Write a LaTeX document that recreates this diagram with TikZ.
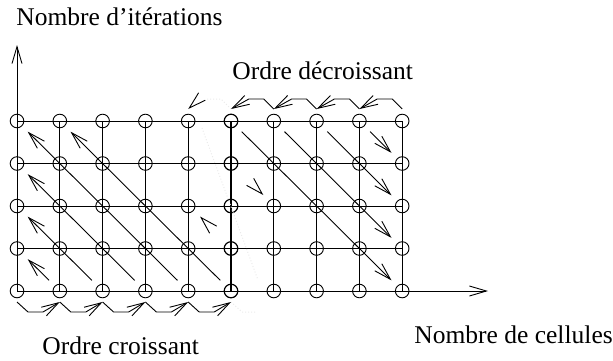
\documentclass[tikz,border=0pt]{standalone}
\usepackage{fontspec}
\setmainfont{Liberation Serif}
\usetikzlibrary{arrows.meta,calc}
\begin{document}
\begin{tikzpicture}[x=1pt,y=-1pt,line width=0.9pt,line join=miter,
  arr/.style={-{Straight Barb[length=17pt,width=10pt,line join=miter]}},
  cell/.style={circle,draw,minimum size=13.6pt,inner sep=0pt,line width=0.9pt},
  boldcell/.style={cell,line width=1.2pt},
  lbl/.style={inner sep=0pt,anchor=base west,font=\fontsize{25.5}{30}\selectfont},
  faint/.style={draw=black!8,dotted,line width=1pt}]
\useasboundingbox (0,0) rectangle (613,360);

% grid of cells
\foreach \i in {0,...,9}{
  \foreach \j in {0,...,4}{
    \pgfmathsetmacro\px{17+42.8*\i}
    \pgfmathsetmacro\py{291-42.5*\j}
    \ifnum\i=5
      \node[boldcell] (c\i\j) at (\px,\py) {};
    \else
      \node[cell] (c\i\j) at (\px,\py) {};
    \fi
  }}

% axes
\coordinate (xend) at (488,291);
\coordinate (yend) at (17,45);
\draw[arr] (c00.center) -- (xend);
\draw[arr] (c00.center) -- (yend);

% grid lines
\foreach \j in {1,...,4} \draw (c0\j.center) -- (c9\j.center);
\foreach \i in {1,2,3,4,6,7,8,9} \draw (c\i0.center) -- (c\i4.center);
\draw[line width=1.2pt] (c50.center) -- (c54.center);

% faint guides
\coordinate (f1) at (202,128);
\coordinate (f2) at (258,280);
\draw[faint] (f1) -- (f2);

% diagonal arrows
\foreach \ua/\va/\ub/\vb [count=\n] in {3.75/.25/.25/3.75, 4.75/.25/1.25/3.75,
    2.75/.25/.25/2.75, 1.75/.25/.25/1.75, .75/.25/.25/.75,
    5.25/3.75/8.75/.25, 6.25/3.75/8.75/1.25, 7.25/3.75/8.75/2.25, 8.25/3.75/8.75/3.25}{
  \coordinate (ds\n) at ({17+42.8*\ua},{291-42.5*\va});
  \coordinate (de\n) at ({17+42.8*\ub},{291-42.5*\vb});
  \draw[arr] (ds\n) -- (de\n);
}

% isolated heads
\coordinate (hA) at (200,216.5);
\coordinate (hB) at (263.3,195);
\draw[arr] ($(hA)+(2,2)$) -- (hA);
\draw[arr] ($(hB)+(-2,-2)$) -- (hB);

% bottom chain (increasing order)
\foreach \k in {0,...,5} \coordinate (b\k) at ({17+42.8*\k},302);
\foreach \k in {0,...,4}{
  \pgfmathtruncatemacro\kk{\k+1}
  \draw[arr] (b\k) -- ++(11,10) -- ++(15,0) -- (b\kk);
}
\draw[faint] (b5) -- ++(11,10) -- ++(15,0);

% top chain (decreasing order)
\foreach \k in {4,...,9} \coordinate (t\k) at ({17+42.8*\k},109);
\foreach \k in {9,8,7,6}{
  \pgfmathtruncatemacro\kk{\k-1}
  \draw[arr] (t\k) -- ++(-10,-10) -- ++(-15,0) -- (t\kk);
}
\draw[faint] (t5) -- ++(-10,-10) -- ++(-15,0);
\draw[arr] ($(t4)+(2.2,-2)$) -- (t4);

% labels
\node[lbl] (ylab) at (16,25) {Nombre d’itérations};
\node[lbl] (dec) at (232,79) {Ordre décroissant};
\node[lbl] (cro) at (42,354) {Ordre croissant};
\node[lbl] (xlab) at (414,343) {Nombre de cellules};
\end{tikzpicture}
\end{document}
